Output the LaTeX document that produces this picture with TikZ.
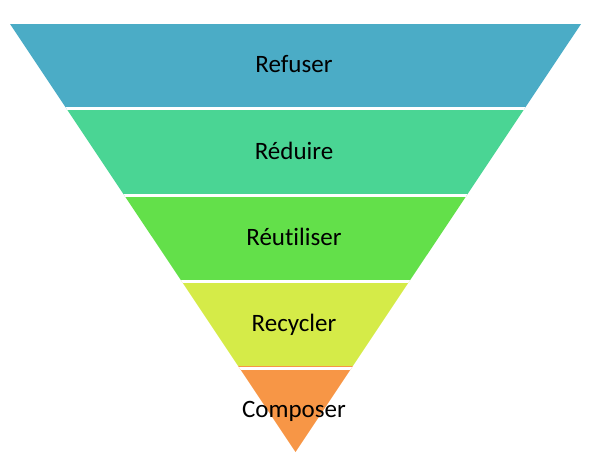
\documentclass[tikz,border=0pt]{standalone}
\usepackage{fontspec}
\setmainfont[Ligatures=NoCommon]{Carlito}
\definecolor{bandA}{HTML}{4BACC6}
\definecolor{bandB}{HTML}{4AD594}
\definecolor{bandC}{HTML}{63E04A}
\definecolor{bandD}{HTML}{D5EB48}
\definecolor{bandE}{HTML}{F79646}
\tikzset{lbl/.style={anchor=base,font=\fontsize{25}{28}\selectfont,text=black,inner sep=0pt}}
\begin{document}
\begin{tikzpicture}[x=1pt,y=-1pt]
\useasboundingbox (0,0) rectangle (589,460);
\begin{scope}
\clip (10,24) -- (581,24) -- (295.5,452) -- cycle;
\fill[bandA] (0,24) rectangle (589,109.6);
\fill[bandB] (0,109.6) rectangle (589,195.2);
\fill[bandC] (0,195.2) rectangle (589,280.8);
\fill[bandD] (0,280.8) rectangle (589,366.4);
\fill[bandE] (0,366.4) rectangle (589,460);
\foreach \yy in {108.4,195.2,281.8,368.2}
  \draw[white,line width=3.2pt] (0,\yy) -- (589,\yy);
\end{scope}
\node[lbl] (t1) at (294,72.5) {Refuser};
\node[lbl] (t2) at (294,159) {Réduire};
\node[lbl] (t3) at (294,245.5) {Réutiliser};
\node[lbl] (t4) at (294,331.5) {Recycler};
\node[lbl] (t5) at (294,417) {Composer};
\end{tikzpicture}
\end{document}
